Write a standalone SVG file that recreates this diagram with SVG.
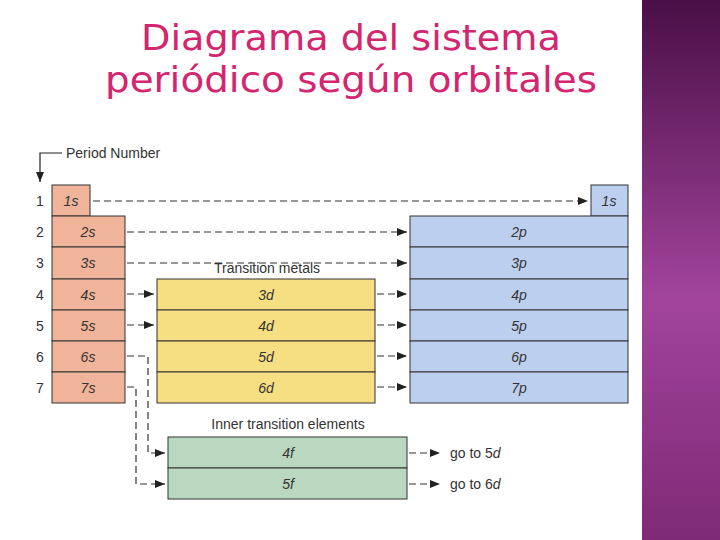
<svg xmlns="http://www.w3.org/2000/svg" width="720" height="540" viewBox="0 0 720 540">
<defs>
<linearGradient id="side" x1="0" y1="0" x2="0" y2="1">
<stop offset="0" stop-color="#4a0f46"/><stop offset="0.55" stop-color="#a2449c"/><stop offset="1" stop-color="#7e2a76"/>
</linearGradient>
<marker id="ah" viewBox="0 0 10 8" refX="10" refY="4" markerWidth="10" markerHeight="8" markerUnits="userSpaceOnUse" orient="auto"><path d="M0,0 L10,4 L0,8 z" fill="#222"/></marker>
<style>
.t{font-family:"Liberation Sans",Arial,sans-serif;font-size:14px;fill:#333}
.c{text-anchor:middle}
.i{font-style:italic}
.s{fill:#efb49a;stroke:#333;stroke-width:1}
.d{fill:#f6df83;stroke:#333;stroke-width:1}
.p{fill:#bccfee;stroke:#333;stroke-width:1}
.f{fill:#b9d8bf;stroke:#333;stroke-width:1}
.dl{fill:none;stroke:#333;stroke-width:1.2;stroke-dasharray:7,4}
</style>
</defs>
<rect width="720" height="540" fill="#fff"/>
<rect x="642" y="0" width="78" height="540" fill="url(#side)"/>
<g font-family="'DejaVu Sans',sans-serif" font-size="35" fill="#d4256f" text-anchor="middle">
<text x="351" y="50" textLength="420" lengthAdjust="spacingAndGlyphs">Diagrama del sistema</text>
<text x="351" y="92" textLength="492" lengthAdjust="spacingAndGlyphs">periódico según orbitales</text>
</g>
<g id="periodlabel">
<path d="M62,153 H40 V182" fill="none" stroke="#222" stroke-width="1.2" marker-end="url(#ah)"/>
<text class="t" x="66" y="158">Period Number</text>
</g>
<g id="periods" class="t">
<text x="36" y="206">1</text><text x="36" y="237">2</text><text x="36" y="268">3</text><text x="36" y="300">4</text><text x="36" y="331">5</text><text x="36" y="362">6</text><text x="36" y="393">7</text>
</g>
<g id="s-block">
<rect class="s" x="52" y="185" width="38" height="31"/>
<rect class="s" x="52" y="216" width="73" height="31"/><rect class="s" x="52" y="247" width="73" height="32"/>
<rect class="s" x="52" y="279" width="73" height="31"/><rect class="s" x="52" y="310" width="73" height="31"/>
<rect class="s" x="52" y="341" width="73" height="31"/><rect class="s" x="52" y="372" width="73" height="31"/>
<g class="t i c"><text x="71" y="206">1s</text><text x="88" y="237">2s</text><text x="88" y="268">3s</text><text x="88" y="300">4s</text><text x="88" y="331">5s</text><text x="88" y="362">6s</text><text x="88" y="393">7s</text></g>
</g>
<g id="d-block">
<text class="t c" x="267" y="273">Transition metals</text>
<rect class="d" x="157" y="279" width="218" height="31"/><rect class="d" x="157" y="310" width="218" height="31"/>
<rect class="d" x="157" y="341" width="218" height="31"/><rect class="d" x="157" y="372" width="218" height="31"/>
<g class="t i c"><text x="266" y="300">3d</text><text x="266" y="331">4d</text><text x="266" y="362">5d</text><text x="266" y="393">6d</text></g>
</g>
<g id="p-block">
<rect class="p" x="591" y="185" width="37" height="31"/>
<rect class="p" x="410" y="216" width="218" height="31"/><rect class="p" x="410" y="247" width="218" height="32"/>
<rect class="p" x="410" y="279" width="218" height="31"/><rect class="p" x="410" y="310" width="218" height="31"/>
<rect class="p" x="410" y="341" width="218" height="31"/><rect class="p" x="410" y="372" width="218" height="31"/>
<g class="t i c"><text x="609" y="206">1s</text><text x="519" y="237">2p</text><text x="519" y="268">3p</text><text x="519" y="300">4p</text><text x="519" y="331">5p</text><text x="519" y="362">6p</text><text x="519" y="393">7p</text></g>
</g>
<g id="f-block">
<text class="t c" x="288" y="429">Inner transition elements</text>
<rect class="f" x="168" y="437" width="239" height="31"/><rect class="f" x="168" y="468" width="239" height="31"/>
<g class="t i c"><text x="288" y="458">4f</text><text x="288" y="489">5f</text></g>
<text class="t" x="450" y="458">go to 5<tspan font-style="italic">d</tspan></text>
<text class="t" x="450" y="489">go to 6<tspan font-style="italic">d</tspan></text>
</g>
<g id="connectors">
<path class="dl" d="M93,201 H588" marker-end="url(#ah)"/>
<path class="dl" d="M127,232 H407" marker-end="url(#ah)"/>
<path class="dl" d="M127,263 H407" marker-end="url(#ah)"/>
<path class="dl" d="M127,294 H154" marker-end="url(#ah)"/>
<path class="dl" d="M127,325 H154" marker-end="url(#ah)"/>
<path class="dl" d="M127,356 H148 V453 H165" marker-end="url(#ah)"/>
<path class="dl" d="M127,387 H136 V484 H165" marker-end="url(#ah)"/>
<path class="dl" d="M377,294 H407" marker-end="url(#ah)"/>
<path class="dl" d="M377,325 H407" marker-end="url(#ah)"/>
<path class="dl" d="M377,356 H407" marker-end="url(#ah)"/>
<path class="dl" d="M377,387 H407" marker-end="url(#ah)"/>
<path class="dl" d="M409,453 H440" marker-end="url(#ah)"/>
<path class="dl" d="M409,484 H440" marker-end="url(#ah)"/>
</g>
</svg>
